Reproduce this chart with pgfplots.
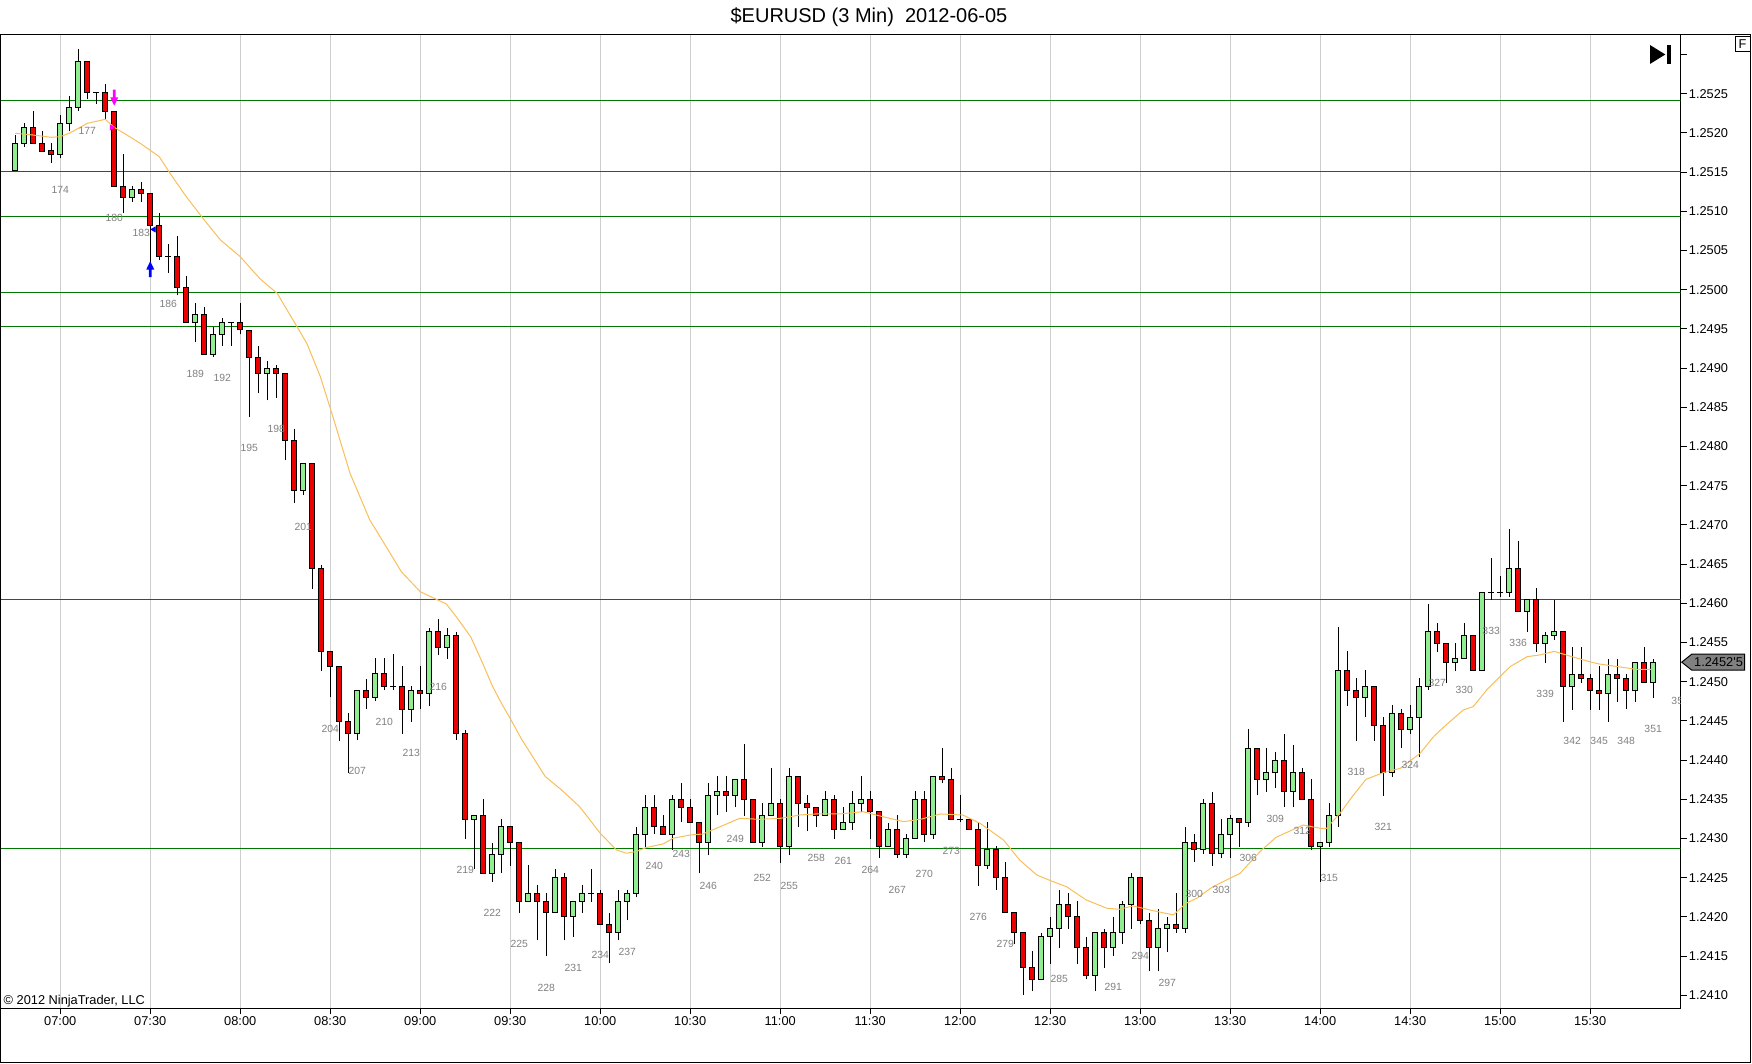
\documentclass[border=0pt]{standalone}
\usepackage{pgfplots}
\pgfplotsset{compat=1.18}
\usepackage{pgfplotstable}
\usepackage{fontspec}
\setmainfont{Liberation Sans}

\definecolor{upgreen}{RGB}{144,238,144}
\definecolor{dnred}{RGB}{236,0,0}
\definecolor{levgreen}{RGB}{0,120,0}
\definecolor{gridgray}{RGB}{205,205,205}
\definecolor{maorange}{RGB}{248,190,90}
\definecolor{lblgray}{RGB}{128,128,128}
\definecolor{taggray}{RGB}{128,128,128}
\definecolor{mkmagenta}{RGB}{255,0,255}
\definecolor{mkblue}{RGB}{0,0,255}

\pgfdeclareplotmark{dnarrow}{%
  \pgfpathmoveto{\pgfqpoint{-0.7bp}{4bp}}%
  \pgfpathlineto{\pgfqpoint{0.7bp}{4bp}}%
  \pgfpathlineto{\pgfqpoint{0.7bp}{0.2bp}}%
  \pgfpathlineto{\pgfqpoint{2bp}{0.2bp}}%
  \pgfpathlineto{\pgfqpoint{0bp}{-4bp}}%
  \pgfpathlineto{\pgfqpoint{-2bp}{0.2bp}}%
  \pgfpathlineto{\pgfqpoint{-0.7bp}{0.2bp}}%
  \pgfpathclose\pgfusepathqfill}
\pgfdeclareplotmark{uparrow}{%
  \pgfpathmoveto{\pgfqpoint{-0.7bp}{-4bp}}%
  \pgfpathlineto{\pgfqpoint{0.7bp}{-4bp}}%
  \pgfpathlineto{\pgfqpoint{0.7bp}{-0.2bp}}%
  \pgfpathlineto{\pgfqpoint{2bp}{-0.2bp}}%
  \pgfpathlineto{\pgfqpoint{0bp}{4bp}}%
  \pgfpathlineto{\pgfqpoint{-2bp}{-0.2bp}}%
  \pgfpathlineto{\pgfqpoint{-0.7bp}{-0.2bp}}%
  \pgfpathclose\pgfusepathqfill}

% 3-minute bars: bar number, open, high, low, close
\pgfplotstableread{
n O H L C
169 1.25152 1.25197 1.25152 1.25187
170 1.25187 1.25213 1.251825 1.25207
171 1.25207 1.25228 1.25187 1.25187
172 1.25187 1.252025 1.25177 1.25177
173 1.25178 1.25187 1.25162 1.25173
174 1.25173 1.25223 1.25168 1.25212
175 1.25212 1.25247 1.25202 1.25233
176 1.25233 1.25307 1.25228 1.25291
177 1.25291 1.25291 1.25243 1.25252
178 1.25252 1.25252 1.25237 1.25252
179 1.25252 1.252625 1.25217 1.25228
180 1.25228 1.25228 1.25132 1.25132
181 1.25132 1.25173 1.250975 1.25118
182 1.25118 1.25132 1.25112 1.25128
183 1.25128 1.25137 1.25112 1.25123
184 1.25123 1.25123 1.250295 1.25082
185 1.25082 1.250975 1.25038 1.25043
186 1.25043 1.25058 1.25022 1.25043
187 1.25042 1.25069 1.24993 1.25003
188 1.25003 1.25018 1.249585 1.249585
189 1.249585 1.24983 1.24933 1.24969
190 1.24969 1.24978 1.24918 1.24918
191 1.24918 1.24953 1.24914 1.24943
192 1.24943 1.24964 1.24928 1.24958
193 1.24958 1.24958 1.24928 1.24958
194 1.24958 1.24983 1.24943 1.24949
195 1.24948 1.24948 1.24838 1.24914
196 1.24914 1.24928 1.24868 1.248935
197 1.248935 1.24909 1.24859 1.24899
198 1.24899 1.24904 1.24862 1.248935
199 1.248935 1.248935 1.24783 1.24808
200 1.24808 1.24823 1.247285 1.24744
201 1.24744 1.24779 1.24738 1.24779
202 1.24779 1.24779 1.24618 1.24645
203 1.24645 1.24649 1.24514 1.245385
204 1.245385 1.245385 1.2448 1.24519
205 1.24519 1.24519 1.24425 1.24449
206 1.24449 1.2446 1.24384 1.24434
207 1.24434 1.244895 1.24426 1.244895
208 1.244895 1.24504 1.24465 1.2448
209 1.2448 1.2453 1.24475 1.2451
210 1.2451 1.2453 1.24489 1.24494
211 1.24494 1.24535 1.24489 1.24494
212 1.24494 1.2452 1.24434 1.24465
213 1.24465 1.24495 1.24449 1.244895
214 1.244895 1.2452 1.24465 1.24485
215 1.24485 1.24569 1.24469 1.24564
216 1.24564 1.2458 1.24534 1.24544
217 1.24544 1.24569 1.245295 1.24559
218 1.24559 1.24564 1.24426 1.24434
219 1.24434 1.24439 1.243 1.243245
220 1.243245 1.243295 1.24261 1.243295
221 1.243295 1.2435 1.24256 1.24256
222 1.24256 1.24295 1.24245 1.2428
223 1.2428 1.243245 1.24256 1.24315
224 1.24315 1.24315 1.24265 1.24295
225 1.24295 1.24295 1.242055 1.242195
226 1.242195 1.24266 1.242195 1.2423
227 1.2423 1.24241 1.2417 1.242195
228 1.242195 1.2423 1.2415 1.242055
229 1.242055 1.24261 1.242055 1.242505
230 1.242505 1.24256 1.2417 1.242005
231 1.242005 1.242195 1.24175 1.242195
232 1.242195 1.24241 1.242055 1.2423
233 1.2423 1.24261 1.242195 1.2423
234 1.2423 1.24235 1.24191 1.24191
235 1.24191 1.242055 1.24141 1.241805
236 1.241805 1.24235 1.2417 1.242195
237 1.242195 1.24235 1.241955 1.2423
238 1.2423 1.24315 1.24225 1.243055
239 1.243055 1.243555 1.242895 1.2434
240 1.2434 1.243555 1.243055 1.24316
241 1.24316 1.2433 1.243055 1.243055
242 1.243055 1.243555 1.242855 1.2435
243 1.2435 1.243705 1.243205 1.2434
244 1.2434 1.2435 1.243205 1.243205
245 1.243205 1.243205 1.242555 1.24295
246 1.24295 1.243705 1.24279 1.243555
247 1.243555 1.243795 1.2433 1.2436
248 1.2436 1.243795 1.24334 1.24355
249 1.24355 1.243755 1.2434 1.243755
250 1.243755 1.244205 1.24329 1.2435
251 1.2435 1.2435 1.24295 1.24295
252 1.24295 1.24345 1.242895 1.243295
253 1.243295 1.243895 1.243295 1.24345
254 1.24345 1.2435 1.24269 1.242895
255 1.242895 1.243895 1.24279 1.243795
256 1.243795 1.243795 1.24315 1.24345
257 1.24345 1.24355 1.2431 1.243395
258 1.243395 1.243395 1.24315 1.243295
259 1.243295 1.243605 1.243295 1.2435
260 1.2435 1.24355 1.243 1.24311
261 1.24311 1.2434 1.24311 1.243205
262 1.243205 1.243605 1.24311 1.24345
263 1.24345 1.243795 1.24334 1.2435
264 1.2435 1.243605 1.243 1.24334
265 1.24334 1.24334 1.24275 1.242895
266 1.242895 1.243205 1.242895 1.24311
267 1.24311 1.2433 1.24275 1.2428
268 1.2428 1.243055 1.24275 1.243
269 1.243 1.243605 1.243 1.2435
270 1.2435 1.243605 1.24295 1.243055
271 1.243055 1.243795 1.243 1.243795
272 1.243795 1.24415 1.243705 1.243755
273 1.243755 1.243895 1.243245 1.243245
274 1.243245 1.24355 1.243205 1.243245
275 1.243245 1.243245 1.24311 1.24311
276 1.24311 1.243205 1.2424 1.24266
277 1.24266 1.243205 1.24261 1.242855
278 1.242855 1.242905 1.24235 1.242505
279 1.242505 1.2427 1.242055 1.242055
280 1.242055 1.242055 1.241655 1.2418
281 1.2418 1.2418 1.241005 1.241355
282 1.241355 1.24157 1.24106 1.241205
283 1.241205 1.2418 1.241205 1.24175
284 1.24175 1.242005 1.2414 1.24185
285 1.24185 1.24235 1.241605 1.24216
286 1.24216 1.2423 1.24185 1.242005
287 1.242005 1.2422 1.2414 1.24161
288 1.24161 1.24175 1.241205 1.241255
289 1.241255 1.2418 1.24106 1.2418
290 1.2418 1.24185 1.241355 1.24161
291 1.24161 1.242005 1.241505 1.2418
292 1.2418 1.2422 1.241655 1.24216
293 1.24216 1.242555 1.24185 1.242505
294 1.242505 1.242505 1.241905 1.24196
295 1.24196 1.242055 1.241305 1.24161
296 1.24161 1.242105 1.241305 1.24185
297 1.24185 1.242005 1.241555 1.241905
298 1.241905 1.2423 1.2418 1.24185
299 1.24185 1.24315 1.2418 1.24295
300 1.24295 1.24306 1.2427 1.242855
301 1.242855 1.2435 1.242805 1.24345
302 1.24345 1.2436 1.242655 1.242805
303 1.242805 1.24325 1.24275 1.243055
304 1.243055 1.2433 1.24275 1.24325
305 1.24325 1.24325 1.242895 1.243205
306 1.243205 1.244395 1.24315 1.24415
307 1.24415 1.24415 1.24355 1.243755
308 1.243755 1.24415 1.2436 1.243845
309 1.243845 1.2441 1.24365 1.243995
310 1.243995 1.24434 1.2434 1.2436
311 1.2436 1.2442 1.2434 1.243845
312 1.243845 1.243895 1.2435 1.2435
313 1.2435 1.243755 1.242855 1.242895
314 1.242895 1.24295 1.24245 1.24295
315 1.24295 1.24345 1.242895 1.2433
316 1.2433 1.245695 1.24315 1.24515
317 1.24515 1.245395 1.24469 1.244895
318 1.244895 1.245045 1.24425 1.2448
319 1.2448 1.24515 1.244545 1.244945
320 1.244945 1.244945 1.24425 1.244445
321 1.244445 1.244545 1.243545 1.243845
322 1.243845 1.2447 1.24379 1.244595
323 1.244595 1.24465 1.24415 1.244395
324 1.244395 1.2447 1.24434 1.244545
325 1.244545 1.245045 1.244045 1.244945
326 1.244945 1.24599 1.244895 1.24564
327 1.24564 1.245745 1.245385 1.24549
328 1.24549 1.24549 1.24498 1.245245
329 1.245245 1.24549 1.24514 1.245295
330 1.245295 1.245745 1.245295 1.24559
331 1.24559 1.24559 1.24514 1.24514
332 1.24514 1.246145 1.24514 1.246145
333 1.246145 1.246585 1.246045 1.246145
334 1.246145 1.24635 1.246085 1.246145
335 1.246145 1.246945 1.246085 1.246445
336 1.246445 1.246795 1.2459 1.2459
337 1.2459 1.246045 1.24564 1.246045
338 1.246045 1.24619 1.245385 1.24549
339 1.24549 1.24564 1.245245 1.24559
340 1.24559 1.246045 1.245535 1.24564
341 1.24564 1.24564 1.24449 1.24494
342 1.24494 1.24544 1.24464 1.245095
343 1.245095 1.24544 1.24499 1.245045
344 1.245045 1.245095 1.24464 1.244885
345 1.244885 1.245195 1.24464 1.244855
346 1.244855 1.245295 1.24449 1.245095
347 1.245095 1.245295 1.244745 1.245045
348 1.245045 1.245095 1.24465 1.244885
349 1.244885 1.245245 1.244745 1.245245
350 1.245245 1.24544 1.244995 1.244995
351 1.244995 1.245295 1.244795 1.24525
}\candles

% moving average line
\pgfplotstableread{
n ma
169 1.251996
171 1.251974
173 1.251945
174 1.251953
175 1.251996
177 1.252123
179 1.252174
180 1.252072
182 1.251932
183 1.25186
185 1.251698
186.2 1.251485
188 1.251188
190 1.25089
191.8 1.250635
194 1.250422
196.2 1.25014
198.1 1.249955
200.3 1.24953
201.4 1.249317
202.9 1.248892
204.3 1.24838
206.2 1.247659
208.4 1.247063
210.1 1.246745
211.9 1.246404
214 1.246149
216.9 1.245992
218 1.24583
219.6 1.245575
221 1.24522
222 1.24495
223 1.24473
224 1.24453
225.3 1.24426
227.9 1.24379
229.7 1.24362
231.7 1.243408
234 1.243068
235.8 1.242855
236.9 1.242813
238 1.242834
239.1 1.242885
241 1.242932
242.1 1.243004
244 1.243046
245.4 1.243058
247.3 1.24315
249.5 1.243258
251.7 1.243246
254 1.243258
256.2 1.243301
258 1.243314
260.6 1.243314
263.2 1.243343
265.1 1.243288
267.7 1.243216
269.6 1.243246
271.8 1.243314
274.3 1.2433
276.2 1.243195
278.8 1.242983
280.6 1.242727
282.5 1.242536
284.3 1.242451
285.8 1.242387
288 1.242217
290.3 1.242111
291.7 1.242098
293.2 1.242141
295.4 1.242081
297.7 1.242026
299.1 1.242175
300.3 1.24224
302.1 1.242387
305.1 1.242557
307.3 1.242833
309.1 1.243016
312.1 1.243173
314 1.243131
314.7 1.243131
316.2 1.243322
317.7 1.243556
319.1 1.243756
321 1.243841
322.9 1.243896
325.1 1.244087
326.6 1.2443
328 1.24445
329.9 1.24464
331 1.244683
332.5 1.244895
335.1 1.245193
337 1.24532
338.4 1.245342
340 1.245388
341.7 1.245329
343.9 1.245257
345 1.245227
347.6 1.245184
349.1 1.245159
351 1.245159
}\mavg

\newcommand{\tickfont}{\fontsize{6.4bp}{7.5bp}\selectfont}

\begin{document}
\begin{tikzpicture}
\path[use as bounding box] (-0.25bp,-27.85bp) rectangle (875.75bp,504.15bp);
\begin{axis}[
  scale only axis, width=840bp, height=487bp,
  xmin=167.36, xmax=354.04, ymin=1.240835, ymax=1.253259,
  axis line style={black, line width=0.5bp},
  xtick={174,184,...,344},
  xticklabels={07:00,07:30,08:00,08:30,09:00,09:30,10:00,10:30,11:00,11:30,12:00,12:30,13:00,13:30,14:00,14:30,15:00,15:30},
  ytick={1.2410,1.2415,1.2420,1.2425,1.2430,1.2435,1.2440,1.2445,1.2450,1.2455,1.2460,1.2465,1.2470,1.2475,1.2480,1.2485,1.2490,1.2495,1.2500,1.2505,1.2510,1.2515,1.2520,1.2525,1.2530},
  yticklabels={1.2410,1.2415,1.2420,1.2425,1.2430,1.2435,1.2440,1.2445,1.2450,1.2455,1.2460,1.2465,1.2470,1.2475,1.2480,1.2485,1.2490,1.2495,1.2500,1.2505,1.2510,1.2515,1.2520,1.2525,{}},
  xtick pos=left, ytick pos=right, yticklabel pos=right,
  tick align=outside, major tick length=3bp,
  tick style={black, line width=0.5bp},
  tick label style={font=\tickfont},
  xticklabel style={inner sep=1bp},
  yticklabel style={inner sep=1bp},
  xmajorgrids, grid style={gridgray, line width=0.5bp},
]
% horizontal level lines
\addplot[levgreen, line width=0.5bp, forget plot] coordinates {(160,1.25241) (360,1.25241)};
\addplot[levgreen, line width=0.5bp, forget plot] coordinates {(160,1.25151) (360,1.25151)};
\addplot[levgreen, line width=0.5bp, forget plot] coordinates {(160,1.25093) (360,1.25093)};
\addplot[levgreen, line width=0.5bp, forget plot] coordinates {(160,1.249965) (360,1.249965)};
\addplot[levgreen, line width=0.5bp, forget plot] coordinates {(160,1.249534) (360,1.249534)};
\addplot[levgreen, line width=0.5bp, forget plot] coordinates {(160,1.24605) (360,1.24605)};
\addplot[levgreen, line width=0.5bp, forget plot] coordinates {(160,1.242875) (360,1.242875)};

% wicks
\addplot[draw=none, mark=none, forget plot,
  error bars/.cd, y dir=plus, y explicit, error mark=none,
  error bar style={draw=black, line width=0.5bp}]
  table[x=n, y=L, y error plus expr=\thisrow{H}-\thisrow{L}] {\candles};

% up bodies
\addplot[draw=none, mark=none, forget plot,
  restrict expr to domain={\thisrow{C}-\thisrow{O}}{0:1},
  error bars/.cd, y dir=plus, y explicit, error mark=none,
  error bar style={draw=black, line width=3bp}]
  table[x=n, y=O, y error plus expr=\thisrow{C}-\thisrow{O}] {\candles};
\addplot[draw=none, mark=none, forget plot,
  restrict expr to domain={\thisrow{C}-\thisrow{O}}{0:1},
  error bars/.cd, y dir=both, y explicit, error mark=-,
  error mark options={rotate=90, black, line width=0.5bp, mark size=1.5bp},
  error bar style={draw=upgreen, line width=2bp}]
  table[x=n, y=O, y error plus expr=\thisrow{C}-\thisrow{O}, y error minus expr=0] {\candles};

% down bodies
\addplot[draw=none, mark=none, forget plot,
  restrict expr to domain={\thisrow{O}-\thisrow{C}}{0.000001:1},
  error bars/.cd, y dir=plus, y explicit, error mark=none,
  error bar style={draw=black, line width=3bp}]
  table[x=n, y=C, y error plus expr=\thisrow{O}-\thisrow{C}] {\candles};
\addplot[draw=none, mark=none, forget plot,
  restrict expr to domain={\thisrow{O}-\thisrow{C}}{0.000001:1},
  error bars/.cd, y dir=both, y explicit, error mark=-,
  error mark options={rotate=90, black, line width=0.5bp, mark size=1.5bp},
  error bar style={draw=dnred, line width=2bp}]
  table[x=n, y=C, y error plus expr=\thisrow{O}-\thisrow{C}, y error minus expr=0] {\candles};

% moving average
\addplot[maorange, line width=0.5bp, mark=none, forget plot] table[x=n, y=ma] {\mavg};

% bar numbers
\addplot[draw=none, mark=none, forget plot,
  restrict x to domain=173:352,
  restrict expr to domain={mod(\thisrow{n},3)}{-0.1:0.1},
  nodes near coords, point meta=explicit symbolic,
  nodes near coords style={anchor=center, font=\fontsize{5.2bp}{6bp}\selectfont, text=lblgray, inner sep=0pt}]
  table[x=n, y expr=\thisrow{L}-0.0004, meta=n] {\candles};

% strategy markers
\addplot[only marks, mark=dnarrow, mkmagenta, forget plot] coordinates {(180,1.25245)};
\addplot[only marks, mark=triangle*, mark size=1.4bp, mkmagenta, mark options={rotate=-90}, forget plot] coordinates {(179.7,1.25207)};
\addplot[only marks, mark=uparrow, mkblue, forget plot] coordinates {(184,1.250263)};
\addplot[only marks, mark=triangle*, mark size=1.4bp, mkblue, mark options={rotate=90}, forget plot] coordinates {(184.4,1.25077)};

\coordinate (tag) at (axis cs:354.04,1.24525);
\coordinate (lbl) at (axis cs:354,1.24475);
\end{axis}

% clipped label of the next bar at the right edge
\begin{scope}
\clip (0,0) rectangle (840bp,487bp);
\node[font=\fontsize{5.2bp}{6bp}\selectfont, text=lblgray, inner sep=0pt] at (lbl) {354};
\end{scope}
% outer frame
\draw[black, line width=0.5bp] (0,-27.2bp) rectangle (875.1bp,487bp);
% title
\node[font=\fontsize{10bp}{12bp}\selectfont] at (434.25bp,495.4bp) {\$EURUSD (3 Min)\ \ 2012-06-05};
% copyright
\node[font=\tickfont, anchor=base west, inner sep=0pt] at (1.4bp,1.7bp) {\textcopyright{} 2012 NinjaTrader, LLC};
% F box
\node[draw=black, line width=0.5bp, font=\fontsize{6.4bp}{7.5bp}\selectfont, minimum width=7.5bp, minimum height=7.5bp, inner sep=0pt] at (871bp,481.9bp) {F};
% go-to-end symbol
\fill[black] (824.8bp,481.6bp) -- (824.8bp,472.2bp) -- (832.4bp,476.9bp) -- cycle;
\fill[black] (833.3bp,472.2bp) rectangle (835.2bp,481.6bp);
% current price tag
\filldraw[fill=taggray, draw=black, line width=0.5bp] ([xshift=0.6bp]tag) -- ++(5bp,4bp) -- ++(26.5bp,0) -- ++(0,-8bp) -- ++(-26.5bp,0) -- cycle;
\node[font=\tickfont, inner sep=0pt] at ([xshift=19bp]tag) {1.2452\textquotesingle 5};
\end{tikzpicture}
\end{document}
